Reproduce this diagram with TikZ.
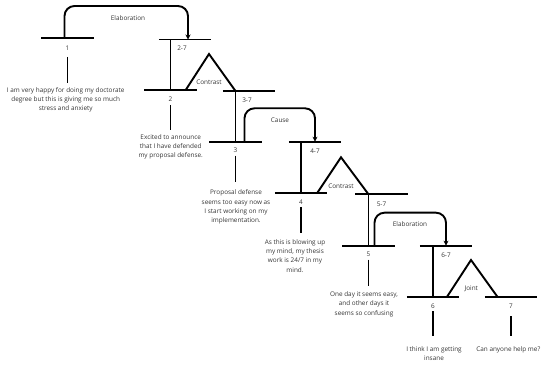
\documentclass[tikz,border=0pt]{standalone}
\usepackage{fontspec}
\setmainfont{Open Sans}
\usetikzlibrary{arrows.meta,positioning}
\definecolor{txtgray}{HTML}{353535}
\begin{document}
\begin{tikzpicture}[
        x=1pt, y=-1pt,
        every node/.style={font=\fontsize{6.4}{9.3}\selectfont, text=txtgray},
        bar/.style={minimum width=52pt, minimum height=0pt, inner sep=0pt},
        leaf/.style={align=center, anchor=north, inner sep=0pt},
        rel/.style={inner sep=1pt},
        line/.style={line width=1.9pt, black},
        relarrow/.style={line, rounded corners=10pt, -{Stealth[length=5pt,width=5pt]}},
    ]
    \useasboundingbox (0,0) rectangle (550,366);
    % bars of the segments and spans
    \node[bar](b1) at (67.5,38){};
    \node[bar](b27) at (185,39.5){};
    \node[bar](b2) at (170.5,90){};
    \node[bar](b37) at (249,91){};
    \node[bar](b3) at (235.5,141.7){};
    \node[bar](b47) at (315,141.7){};
    \node[bar](b4) at (301,193){};
    \node[bar](b57) at (381.5,194.3){};
    \node[bar](b5) at (368.5,245.7){};
    \node[bar](b67) at (446,245.7){};
    \node[bar](b6) at (433,297.3){};
    \node[bar](b7) at (511,297.3){};
    \foreach \b in {b1,b27,b2,b37,b3,b47,b4,b57,b5,b67,b6,b7}
        \draw[line] (\b.west) -- (\b.east);
    % numbers under the bars
    \node(n1) at ([yshift=-10pt]b1.center){1};
    \node(n27) at ([yshift=-9pt,xshift=-3pt]b27.center){2-7};
    \node(n2) at ([yshift=-9pt]b2.center){2};
    \node(n37) at ([yshift=-9.5pt,xshift=-2pt]b37.center){3-7};
    \node(n3) at ([yshift=-9pt]b3.center){3};
    \node(n47) at ([yshift=-10pt]b47.center){4-7};
    \node(n4) at ([yshift=-9pt]b4.center){4};
    \node(n57) at ([yshift=-10pt]b57.center){5-7};
    \node(n5) at ([yshift=-9pt]b5.center){5};
    \node(n67) at ([yshift=-10pt]b67.center){6-7};
    \node(n6) at ([yshift=-9pt]b6.center){6};
    \node(n7) at ([yshift=-9pt]b7.center){7};
    % spans down to their first segment
    \draw[line] (b2 |- b27) -- (b2);
    \draw[line] (b3 |- b37) -- (b3);
    \draw[line] (b4 |- b47) -- (b4);
    \draw[line] (b5 |- b57) -- (b5);
    \draw[line] (b6 |- b67) -- (b6);
    % stems to the texts
    \draw[line] ([yshift=-19pt]b1.center) -- ++(0,26);
    \draw[line] ([yshift=-15pt]b2.center) -- ++(0,25);
    \draw[line] ([yshift=-14pt]b3.center) -- ++(0,26);
    \draw[line] ([yshift=-14pt]b4.center) -- ++(0,26);
    \draw[line] ([yshift=-14pt]b5.center) -- ++(0,26);
    \draw[line] ([yshift=-14pt]b6.center) -- ++(0,25);
    \draw[line] ([yshift=-19pt]b7.center) -- ++(0,20);
    % texts of the segments
    \node[leaf](t1) at (65.7,87.2){I am very happy for doing my doctorate\\degree but this is giving me so much\\stress and anxiety};
    \node[leaf](t2) at (170.7,134.2){Excited to announce\\that I have defended\\my proposal defense.};
    \node[leaf](t3) at (236,189.8){Proposal defense\\seems too easy now as\\I start working on my\\implementation.};
    \node[leaf](t4) at (295,239.2){As this is blowing up\\my mind, my thesis\\work is 24/7 in my\\mind.};
    \node[leaf](t5) at (364,291.5){One day it seems easy,\\and other days it\\seems so confusing};
    \node[leaf](t6) at (434,346.5){I think I am getting\\insane};
    \node[leaf](t7) at (508.3,346.5){Can anyone help me?};
    % mononuclear relations
    \draw[relarrow] ([xshift=-3pt]b1.center) -- ++(0,-32) -| ([xshift=3pt]b27.center);
    \node[rel](r1) at (128,17.7){Elaboration};
    \draw[relarrow] ([xshift=9pt]b3.center) -- ++(0,-33.4) -| (b47.center);
    \node[rel](r2) at (280,120){Cause};
    \draw[relarrow] ([xshift=6pt]b5.center) -- ++(0,-33) -| (b67.center);
    \node[rel](r3) at (410,224.3){Elaboration};
    % multinuclear relations
    \coordinate(a1) at (209,54);
    \draw[line] ([xshift=-11pt]b2.east) -- (a1) -- (b3 |- b37);
    \node[rel](m1) at (209,82.7){Contrast};
    \coordinate(a2) at (341,157.3);
    \draw[line] ([xshift=-10pt]b4.east) -- (a2) -- (b5 |- b57);
    \node[rel](m2) at (341,186){Contrast};
    \coordinate(a3) at (471,260);
    \draw[line] ([xshift=-12.5pt]b6.east) -- (a3) -- ([xshift=13pt]b7.west);
    \node[rel](m3) at (471.3,288.3){Joint};
\end{tikzpicture}
\end{document}
